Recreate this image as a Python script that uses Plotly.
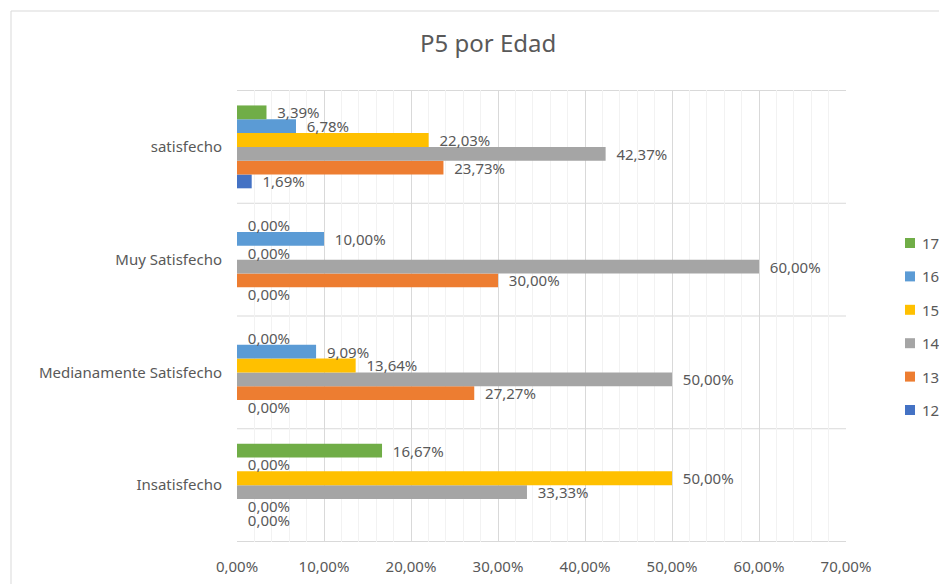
import plotly.graph_objects as go

# categorias (de abajo hacia arriba) y series por edad
categorias = ["Insatisfecho", "Medianamente Satisfecho", "Muy Satisfecho", "satisfecho"]
edades = ["12", "13", "14", "15", "16", "17"]
edad_12 = [0.0, 0.0, 0.0, 0.0169]
edad_13 = [0.0, 0.2727, 0.30, 0.2373]
edad_14 = [0.3333, 0.50, 0.60, 0.4237]
edad_15 = [0.50, 0.1364, 0.0, 0.2203]
edad_16 = [0.0, 0.0909, 0.10, 0.0678]
edad_17 = [0.1667, 0.0, 0.0, 0.0339]
series = [edad_12, edad_13, edad_14, edad_15, edad_16, edad_17]
colores = ["#4472C4", "#ED7D31", "#A5A5A5", "#FFC000", "#5B9BD5", "#70AD47"]

GRIS = "#595959"
FUENTE = "Noto Sans"
W, H = 947, 584
ML, MR, MT, MB = 229, 109, 82, 50


def px_x(px):
    # pixel horizontal de la figura -> coordenada paper
    return (px - ML) / (W - ML - MR)


def px_y(py):
    return (H - MB - py) / (H - MT - MB)


fig = go.Figure()
for nombre, vals, color in zip(edades, series, colores):
    fig.add_trace(go.Bar(
        y=categorias, x=vals, name=nombre, orientation="h",
        marker=dict(color=color, line=dict(width=0)),
        texttemplate="\u00a0\u00a0%{x:.2%}", textposition="outside",
        constraintext="none",
        textfont=dict(size=15, color=GRIS, family=FUENTE),
        cliponaxis=False, showlegend=False,
    ))

# lineas horizontales entre categorias (estilo Excel)
for yb in [-0.5, 0.5, 1.5, 2.5, 3.5]:
    fig.add_shape(type="line", xref="paper", yref="y", x0=0, x1=1, y0=yb, y1=yb,
                  line=dict(color="#D9D9D9", width=1), layer="below")

# leyenda a mano (17 arriba, 12 abajo)
for i, (nombre, color) in enumerate(zip(edades[::-1], colores[::-1])):
    yc = 235 + i * 33.4
    fig.add_shape(type="rect", xref="paper", yref="paper",
                  x0=px_x(897), x1=px_x(907), y0=px_y(yc + 5), y1=px_y(yc - 5),
                  fillcolor=color, line=dict(width=0))
    fig.add_annotation(x=px_x(912), y=px_y(yc), xref="paper", yref="paper",
                       text=nombre, showarrow=False, xanchor="left", yanchor="middle",
                       font=dict(size=15, color=GRIS, family=FUENTE))

# borde del grafico
fig.add_shape(type="rect", xref="paper", yref="paper",
              x0=px_x(3), x1=px_x(W + 20), y0=px_y(H + 20), y1=px_y(3),
              line=dict(color="#D9D9D9", width=1))

fig.update_layout(
    width=W, height=H,
    margin=dict(l=ML, r=MR, t=MT, b=MB),
    paper_bgcolor="white", plot_bgcolor="white",
    separators=",.",
    barmode="group", bargap=0.265, bargroupgap=0,
    title=dict(text="P5 por Edad", x=0.507, xanchor="center",
               y=1 - 36 / H, yanchor="middle",
               font=dict(size=24, color=GRIS, family=FUENTE)),
    font=dict(family=FUENTE, color=GRIS, size=15),
    showlegend=False,
)
fig.update_xaxes(range=[0, 0.70], dtick=0.10, tickformat=".2%",
                 showgrid=True, gridcolor="#D9D9D9", zeroline=False,
                 minor=dict(dtick=0.02, showgrid=True, gridcolor="#F2F2F2"),
                 tickfont=dict(size=15, color=GRIS), ticks="", showline=False,
                 ticklabelstandoff=14)
fig.update_yaxes(showgrid=False, ticks="", ticklabelstandoff=14,
                 tickfont=dict(size=15, color=GRIS), showline=False)

fig.write_html("out.html")
